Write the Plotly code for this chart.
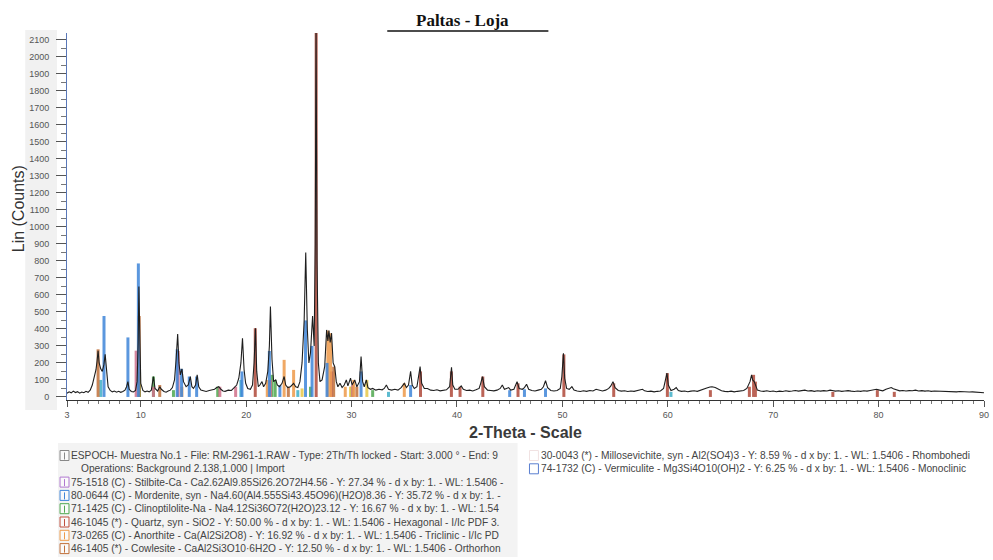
import plotly.graph_objects as go

# ---------------- data ----------------
obs_2theta = [3.00,3.20,3.40,3.60,3.80,4.00,4.20,4.40,4.60,4.80,5.00,5.20,5.40,5.60,5.75,5.85,5.95,6.05,6.20,6.35,
6.50,6.62,6.75,6.90,7.10,7.30,7.50,7.70,7.90,8.10,8.30,8.50,8.65,8.78,8.90,9.10,9.30,9.50,9.65,9.75,
9.82,9.90,10.00,10.20,10.40,10.60,10.80,11.00,11.20,11.35,11.60,11.80,11.95,12.20,12.40,12.60,12.80,13.00,13.20,13.35,
13.50,13.62,13.75,13.90,14.05,14.30,14.50,14.70,14.85,15.00,15.20,15.35,15.50,15.70,15.90,16.20,16.50,16.80,17.00,17.20,
17.40,17.60,17.80,18.00,18.30,18.60,18.90,19.10,19.30,19.50,19.65,19.80,19.95,20.15,20.40,20.60,20.75,20.88,21.00,21.15,
21.30,21.50,21.65,21.85,22.05,22.20,22.30,22.45,22.60,22.80,22.95,23.15,23.40,23.60,23.75,23.95,24.20,24.50,24.70,24.90,
25.10,25.30,25.50,25.65,25.80,25.95,26.10,26.30,26.45,26.55,26.63,26.72,26.85,27.00,27.20,27.45,27.63,27.75,27.85,27.97,
28.10,28.25,28.40,28.55,28.70,28.90,29.10,29.30,29.50,29.65,29.90,30.05,30.30,30.50,30.75,30.90,31.05,31.20,31.40,31.55,
31.80,32.00,32.30,32.60,32.90,33.10,33.30,33.50,33.80,34.10,34.40,34.70,35.00,35.20,35.40,35.60,35.75,35.95,36.20,36.50,
36.65,36.90,37.20,37.50,37.80,38.10,38.40,38.70,39.00,39.30,39.48,39.60,39.80,40.10,40.40,40.60,40.90,41.20,41.50,41.80,
42.10,42.25,42.42,42.60,42.90,43.20,43.50,43.80,44.10,44.30,44.50,44.70,44.90,45.10,45.40,45.70,45.90,46.20,46.40,46.60,
46.80,47.10,47.40,47.70,48.00,48.20,48.40,48.60,48.90,49.20,49.50,49.80,49.95,50.10,50.22,50.40,50.65,50.90,51.10,51.40,
51.70,52.00,52.30,52.60,52.90,53.20,53.50,53.80,54.10,54.40,54.60,54.80,55.00,55.30,55.60,55.90,56.20,56.50,56.80,57.10,
57.40,57.60,57.80,58.10,58.40,58.70,59.00,59.30,59.60,59.80,59.92,60.05,60.30,60.60,60.80,61.00,61.30,61.60,61.90,62.20,
62.50,62.80,63.10,63.40,63.70,64.00,64.20,64.50,64.80,65.10,65.40,65.70,66.00,66.30,66.60,66.90,67.20,67.50,67.80,67.95,
68.05,68.20,68.35,68.50,68.80,69.10,69.40,69.70,70.00,70.30,70.60,70.90,71.20,71.50,71.80,72.10,72.40,72.70,73.00,73.30,
73.60,73.90,74.20,74.50,74.80,75.10,75.40,75.60,75.90,76.20,76.50,76.80,77.10,77.40,77.70,78.00,78.30,78.60,78.90,79.20,
79.50,79.80,80.10,80.40,80.70,81.00,81.20,81.40,81.70,82.00,82.30,82.60,82.90,83.20,83.50,83.80,84.10,84.40,84.70,85.00,
85.30,85.60,85.90,86.20,86.50,86.80,87.10,87.40,87.70,88.00,88.30,88.60,88.90,89.20,89.50,89.80,90.00]
obs_counts = [22,30,24,34,26,31,22,29,25,33,27,40,70,120,160,210,272,200,165,150,
190,250,140,60,38,30,35,28,33,27,32,40,60,90,45,32,30,38,90,320,
650,420,80,38,30,35,30,40,120,50,35,60,45,32,28,35,40,55,100,220,
370,200,130,165,90,60,70,120,60,50,70,130,60,40,35,32,38,40,45,55,
60,45,35,33,40,38,55,70,110,200,345,160,80,50,45,70,200,404,150,60,
70,90,60,80,150,300,531,220,90,100,70,60,80,120,70,55,60,80,60,55,
90,200,450,849,400,200,260,476,300,900,2140,800,200,90,100,180,394,330,390,320,
375,200,178,90,60,80,55,70,100,65,110,70,100,60,90,237,90,60,100,55,
45,50,40,45,42,50,70,45,40,45,40,55,80,55,70,150,70,50,60,178,
80,50,50,40,38,42,36,40,42,60,175,70,45,45,65,45,38,40,35,42,
50,80,120,60,40,38,36,40,50,70,45,50,55,40,45,90,50,45,55,75,
45,38,35,40,45,60,95,55,38,35,38,50,120,257,110,50,45,60,40,35,
32,36,33,38,35,45,38,35,40,50,65,90,55,38,34,36,32,35,33,36,
40,45,36,32,34,30,33,35,50,100,140,70,38,45,55,38,33,35,31,34,
36,33,38,45,52,58,60,55,45,36,33,31,34,30,33,35,38,50,90,130,
100,90,60,40,35,33,36,32,35,31,34,32,36,33,35,38,34,36,40,35,
37,33,36,34,37,35,40,38,34,36,33,35,37,34,32,35,33,36,34,38,
42,45,40,36,45,52,55,48,40,36,38,35,37,36,40,35,37,34,36,33,
35,34,35,32,34,31,33,30,32,30,31,29,30,28,29,27,25]

# reference phase stick patterns (2-theta, counts)
mordenite_pos = [6.51, 8.78, 9.77, 13.45, 13.87, 14.6, 15.3, 19.6, 22.2, 23.2, 25.63, 26.25, 27.67, 30.9, 35.6, 45.0, 46.4, 48.4]
mordenite_h = [476, 350, 785, 280, 165, 120, 120, 150, 270, 70, 450, 300, 200, 150, 70, 40, 45, 50]
quartz_pos = [20.86, 26.64, 36.54, 39.47, 40.29, 42.45, 45.79, 50.14, 54.87, 59.96, 64.04, 67.74, 68.14, 68.31, 75.66, 79.88, 81.49]
quartz_h = [404, 2140, 150, 150, 60, 120, 80, 250, 80, 140, 40, 60, 130, 90, 30, 40, 30]
anorthite_pos = [13.9, 22.0, 23.6, 24.5, 27.75, 28.0, 29.4, 30.2, 35.0]
anorthite_h = [60, 100, 218, 159, 390, 375, 60, 100, 80]
cowlesite_pos = [5.95, 9.85, 11.8, 24.0, 28.3, 30.5]
cowlesite_h = [280, 476, 70, 60, 178, 60]
stilbite_pos = [9.56, 11.2, 13.55, 17.5, 19.0, 22.3, 28.1, 30.1]
stilbite_h = [272, 60, 270, 60, 60, 100, 150, 70]
clino_pos = [9.88, 11.2, 13.1, 17.3, 22.45, 22.75, 26.1, 30.0, 32.0]
clino_h = [150, 120, 40, 60, 130, 100, 60, 60, 40]
millo_pos = [25.3, 29.9, 31.45]
millo_h = [50, 60, 100]
vermic_pos = [6.2, 19.5, 24.9, 33.5, 60.3]
vermic_h = [100, 100, 40, 30, 30]

x_ticks = [3, 10, 20, 30, 40, 50, 60, 70, 80, 90]
y_ticks = list(range(0, 2101, 100))

title_text = "Paltas - Loja"
x_title = "2-Theta - Scale"
y_title = "Lin (Counts)"

legend_left = [
    ("ESPOCH- Muestra No.1 - File: RM-2961-1.RAW - Type: 2Th/Th locked - Start: 3.000 \u00b0 - End: 9", "#888888", 70),
    ("Operations: Background 2.138,1.000 | Import", None, 80),
    ("75-1518 (C) - Stilbite-Ca - Ca2.62Al9.85Si26.2O72H4.56 - Y: 27.34 % - d x by: 1. - WL: 1.5406 -", "#b078d0", 70),
    ("80-0644 (C) - Mordenite, syn - Na4.60(Al4.555Si43.45O96)(H2O)8.36 - Y: 35.72 % - d x by: 1. -", "#3f86d9", 70),
    ("71-1425 (C) - Clinoptilolite-Na - Na4.12Si36O72(H2O)23.12 - Y: 16.67 % - d x by: 1. - WL: 1.54", "#4fa84f", 70),
    ("46-1045 (*) - Quartz, syn - SiO2 - Y: 50.00 % - d x by: 1. - WL: 1.5406 - Hexagonal - I/Ic PDF 3.", "#c0503e", 70),
    ("73-0265 (C) - Anorthite - Ca(Al2Si2O8) - Y: 16.92 % - d x by: 1. - WL: 1.5406 - Triclinic - I/Ic PD", "#ee9a4a", 70),
    ("46-1405 (*) - Cowlesite - CaAl2Si3O10\u00b76H2O - Y: 12.50 % - d x by: 1. - WL: 1.5406 - Orthorhon", "#c0703a", 70),
]
legend_right = [
    ("30-0043 (*) - Millosevichite, syn - Al2(SO4)3 - Y: 8.59 % - d x by: 1. - WL: 1.5406 - Rhombohedi", "#f1e2e2"),
    ("74-1732 (C) - Vermiculite - Mg3Si4O10(OH)2 - Y: 6.25 % - d x by: 1. - WL: 1.5406 - Monoclinic", "#5a7fd0"),
]

# ---------------- figure ----------------
W, H = 993, 560
L, R, T, B = 67, 4, 33, 160
PW, PH = W - L - R, H - T - B


def px(x):
    return (x - L) / PW


def py(y):
    return (H - B - y) / PH


def sticks(pos, h):
    xs, ys = [], []
    for p, v in zip(pos, h):
        xs += [p, p, None]
        ys += [0, v, None]
    return xs, ys


fig = go.Figure()
phases = [
    (clino_pos, clino_h, "#4fa84f"),
    (millo_pos, millo_h, "#e8c84a"),
    (vermic_pos, vermic_h, "#40b0c8"),
    (stilbite_pos, stilbite_h, "#d0708a"),
    (cowlesite_pos, cowlesite_h, "#c0703a"),
    (anorthite_pos, anorthite_h, "#ee9a4a"),
    (mordenite_pos, mordenite_h, "#3f86d9"),
    (quartz_pos, quartz_h, "#b0493a"),
]
for pos, h, col in phases:
    xs, ys = sticks(pos, h)
    fig.add_trace(go.Scatter(x=xs, y=ys, mode="lines", line=dict(color=col, width=3),
                             opacity=0.85, hoverinfo="skip", showlegend=False))

fig.add_trace(go.Scatter(x=obs_2theta, y=obs_counts, mode="lines",
                         line=dict(color="#1e1e1e", width=1.1), showlegend=False))

fig.update_layout(
    width=W, height=H,
    margin=dict(l=L, r=R, t=T, b=B),
    paper_bgcolor="white", plot_bgcolor="white",
    font=dict(family="Liberation Sans, Arial, sans-serif", color="#444"),
    xaxis=dict(range=[3, 90], tickvals=x_ticks, ticks="outside", ticklen=6, tickcolor="#555",
               ticklabeloverflow="allow",
               showline=True, linecolor="#333", linewidth=1, showgrid=False, zeroline=False,
               tickfont=dict(size=9, color="#555"),
               minor=dict(dtick=1, ticks="outside", ticklen=3, tickcolor="#777")),
    yaxis=dict(range=[-18, 2140], tickvals=y_ticks, ticks="outside", ticklen=10, tickcolor="#555",
               ticklabelstandoff=5,
               showline=True, linecolor="#5a78b8", linewidth=1, showgrid=False, zeroline=False,
               tickfont=dict(size=9, color="#555"),
               minor=dict(dtick=50, ticks="outside", ticklen=5, tickcolor="#777")),
)

shapes = []
ann = []
# background panels
shapes.append(dict(type="rect", xref="paper", yref="paper", x0=px(25), x1=px(57), y0=py(410), y1=py(30),
                   fillcolor="#f1f1f1", line=dict(width=0), layer="below"))
shapes.append(dict(type="rect", xref="paper", yref="paper", x0=px(58), x1=px(520), y0=py(557), y1=py(443),
                   fillcolor="#f3f3f3", line=dict(width=0), layer="below"))

# title + underline
ann.append(dict(text="<b>" + title_text + "</b>", xref="paper", yref="paper", x=px(465), y=py(20),
                showarrow=False, xanchor="center", yanchor="middle",
                font=dict(family="Liberation Serif, Times New Roman, serif", size=17, color="#111")))
shapes.append(dict(type="line", xref="paper", yref="paper", x0=px(389), x1=px(551), y0=py(31), y1=py(31),
                   line=dict(color="#111", width=1.5)))

# axis titles
ann.append(dict(text=y_title, xref="paper", yref="paper", x=px(18), y=py(209), textangle=-90,
                showarrow=False, xanchor="center", yanchor="middle",
                font=dict(size=16, color="#333")))
ann.append(dict(text="<b>" + x_title + "</b>", xref="paper", yref="paper", x=px(528), y=py(432),
                showarrow=False, xanchor="center", yanchor="middle",
                font=dict(size=16, color="#3a3a3a")))

# legend block
row_y0, row_dy = 455.5, 13.3
for i, (txt, col, xs) in enumerate(legend_left):
    yy = row_y0 + i * row_dy
    ann.append(dict(text=txt, xref="paper", yref="paper", x=px(xs - 1), y=py(yy), showarrow=False,
                    xanchor="left", yanchor="middle", font=dict(size=10.2, color="#444")))
    if col:
        shapes.append(dict(type="rect", xref="paper", yref="paper", x0=px(60), x1=px(69),
                           y0=py(yy + 5), y1=py(yy - 5), line=dict(color=col, width=1),
                           fillcolor="rgba(255,255,255,0.6)"))
        shapes.append(dict(type="line", xref="paper", yref="paper", x0=px(64.5), x1=px(64.5),
                           y0=py(yy + 4), y1=py(yy - 3), line=dict(color=col, width=1)))
for i, (txt, col) in enumerate(legend_right):
    yy = row_y0 + i * row_dy
    ann.append(dict(text=txt, xref="paper", yref="paper", x=px(542), y=py(yy), showarrow=False,
                    xanchor="left", yanchor="middle", font=dict(size=10.2, color="#444")))
    shapes.append(dict(type="rect", xref="paper", yref="paper", x0=px(532), x1=px(541),
                       y0=py(yy + 5), y1=py(yy - 5), line=dict(color=col, width=1),
                       fillcolor="rgba(255,255,255,0.6)"))

fig.update_layout(shapes=shapes, annotations=ann)
fig.write_html("out.html", config={"displayModeBar": False},
               post_script="document.body.style.margin='0';document.body.style.overflow='hidden';")
